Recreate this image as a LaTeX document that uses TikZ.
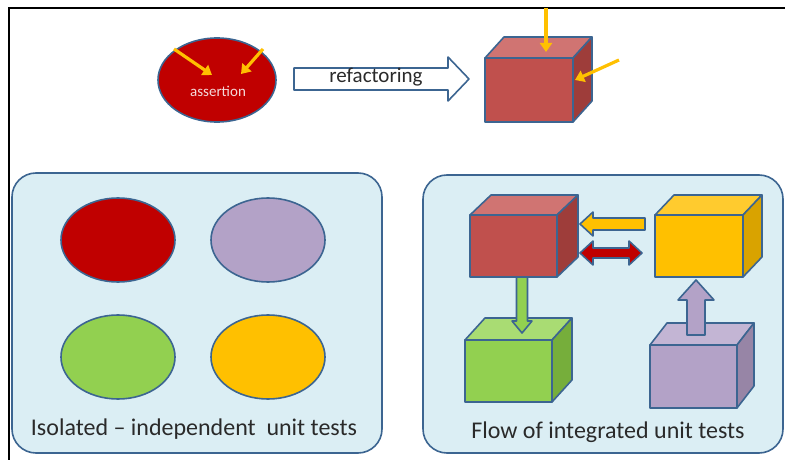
\documentclass[tikz,border=0pt]{standalone}
\usepackage{fontspec}
\setmainfont{Carlito}
\usetikzlibrary{arrows.meta,calc,shapes.geometric}
\definecolor{edgeblue}{HTML}{3C6591}
\definecolor{panelfill}{HTML}{DBEEF4}
\definecolor{darkred}{HTML}{C00000}
\definecolor{cubered}{HTML}{C0504D}
\definecolor{cuberedtop}{HTML}{D07472}
\definecolor{cuberedside}{HTML}{9E3D3A}
\definecolor{gold}{HTML}{FFC000}
\definecolor{goldtop}{HTML}{FFCB2E}
\definecolor{goldside}{HTML}{D9A300}
\definecolor{lgreen}{HTML}{92D050}
\definecolor{lgreentop}{HTML}{A9DC73}
\definecolor{lgreenside}{HTML}{76AE3B}
\definecolor{lilac}{HTML}{B3A2C7}
\definecolor{lilactop}{HTML}{C3B5D4}
\definecolor{lilacside}{HTML}{9785A6}
\definecolor{labelgray}{HTML}{2A2A2A}
\definecolor{pinkwhite}{HTML}{F4DADA}
\tikzset{
  edge/.style={draw=edgeblue,line width=1.6pt,line join=round},
  panel/.style={edge,fill=panelfill,rounded corners=24pt},
  blob/.style={ellipse,edge,inner sep=0pt,outer sep=0pt},
  thinarrow/.style={draw=gold,line width=3.2pt,-{Triangle[length=9pt,width=12pt]}},
  face/.style={edge},
  paneltext/.style={text=labelgray,font=\fontsize{24}{28}\selectfont}
}
\newcommand\cube[8]{% name, NW corner, w, h, offset, front, top, side
  \node[edge,fill=#6,minimum width=#3,minimum height=#4,inner sep=0pt,outer sep=0pt,anchor=north west] (#1) at (#2) {};
  \draw[face,fill=#7] (#1.north west) -- ++(#5) -- ($(#1.north east)+(#5)$) -- (#1.north east) -- cycle;
  \draw[face,fill=#8] (#1.north east) -- ++(#5) -- ($(#1.south east)+(#5)$) -- (#1.south east) -- cycle;
}
% style, start, end, half body, half head, head length
\newcommand\blockarrow[6]{%
  \path[#1] let \p1=(#2), \p2=(#3), \n1={veclen(\x2-\x1,\y2-\y1)}, \n2={atan2(\y2-\y1,\x2-\x1)} in
    [shift={(\p1)},rotate=\n2] (0,-#4) -- ({\n1-#6},-#4) -- ({\n1-#6},-#5) -- (\n1,0) -- ({\n1-#6},#5) -- ({\n1-#6},#4) -- (0,#4) -- cycle;}
\newcommand\doublearrow[6]{%
  \path[#1] let \p1=(#2), \p2=(#3), \n1={veclen(\x2-\x1,\y2-\y1)}, \n2={atan2(\y2-\y1,\x2-\x1)} in
    [shift={(\p1)},rotate=\n2] (0,0) -- (#6,-#5) -- (#6,-#4) -- ({\n1-#6},-#4) -- ({\n1-#6},-#5) -- (\n1,0) -- ({\n1-#6},#5) -- ({\n1-#6},#4) -- (#6,#4) -- (#6,#5) -- cycle;}
\begin{document}
\begin{tikzpicture}[x=1pt,y=1pt]
\useasboundingbox (0,0) rectangle (785,-460);
\fill[white] (0,0) rectangle (785,-460);
% frame
\draw[line width=2.6pt] (9,-460) -- (9,-8) -- (785,-8);

% ---- top row ----
\node[blob,fill=darkred,minimum width=118,minimum height=84] (assert) at (217,-80) {};
\node[text=pinkwhite,font=\fontsize{15}{18}\selectfont] (assertlbl) at (218,-91) {assertion};
\coordinate (a1s) at (174,-49); \coordinate (a1e) at (212,-75);
\coordinate (a2s) at (263,-49); \coordinate (a2e) at (241,-74);
\draw[thinarrow] (a1s) -- (a1e);
\draw[thinarrow] (a2s) -- (a2e);

\coordinate (refs) at (294,-79);
\coordinate (refe) at (469,-79);
\blockarrow{edge,fill=white}{refs}{refe}{11}{22}{21}
\node[text=labelgray,font=\fontsize{21}{24}\selectfont] (reflbl) at (376,-77) {refactoring};

\cube{topcube}{485,-58}{88}{64}{19,21}{cubered}{cuberedtop}{cuberedside}
\coordinate (t1s) at (546,-8); \coordinate (t1e) at (546,-52);
\coordinate (t2s) at (619,-60); \coordinate (t2e) at (575,-80);
\draw[thinarrow] (t1s) -- (t1e);
\draw[thinarrow] (t2s) -- (t2e);

% ---- left panel ----
\draw[panel] (12,-173) rectangle (382,-453);
\node[blob,fill=darkred,minimum width=114,minimum height=84] (e1) at (118,-240) {};
\node[blob,fill=lilac,minimum width=114,minimum height=84] (e2) at (268,-240) {};
\node[blob,fill=lgreen,minimum width=114,minimum height=84] (e3) at (118,-357) {};
\node[blob,fill=gold,minimum width=114,minimum height=84] (e4) at (268,-357) {};
\node[paneltext] (lefttitle) at (194,-429) {Isolated – independent\ \ unit tests};

% ---- right panel ----
\draw[panel] (423,-175) rectangle (783,-453);
\cube{rcube}{470,-215}{87}{62}{21,20}{cubered}{cuberedtop}{cuberedside}
\cube{ycube}{655,-215}{88}{62}{19,20}{gold}{goldtop}{goldside}
\cube{gcube}{465,-340}{87}{62}{20,22}{lgreen}{lgreentop}{lgreenside}
\cube{pcube}{650,-345}{87}{63}{17,22}{lilac}{lilactop}{lilacside}

\coordinate (yas) at (645,-224); \coordinate (yae) at (580,-224);
\blockarrow{edge,fill=gold}{yas}{yae}{6}{12}{13}
\coordinate (rds) at (580,-253); \coordinate (rde) at (642,-253);
\doublearrow{edge,fill=darkred}{rds}{rde}{5}{12}{13}
\coordinate (gas) at (522,-277); \coordinate (gae) at (522,-333);
\blockarrow{edge,fill=lgreen}{gas}{gae}{5.5}{10}{12}
\coordinate (pas) at (696,-335); \coordinate (pae) at (696,-280);
\blockarrow{edge,fill=lilac}{pas}{pae}{9}{18}{20}

\node[paneltext] (righttitle) at (608,-432) {Flow of integrated unit tests};
\end{tikzpicture}
\end{document}
